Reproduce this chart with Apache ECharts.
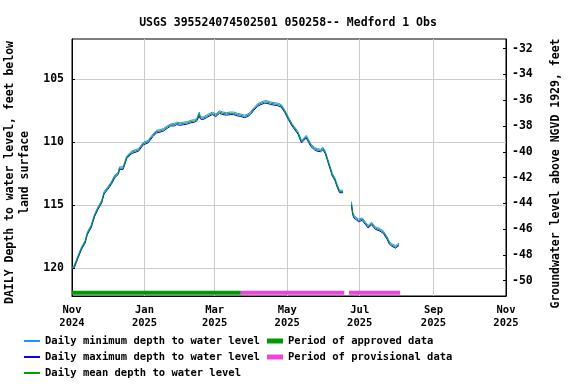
<!DOCTYPE html>
<html><head><meta charset="utf-8">
<script src="https://cdn.jsdelivr.net/npm/echarts@6/dist/echarts.min.js"></script>
<style>html,body{margin:0;padding:0;background:#fff}#c{width:576px;height:384px}</style>
</head><body><div id="c"></div>
<script>
const titleText = 'USGS 395524074502501 050258-- Medford 1 Obs';
const dates = [
 '2024-11-01','2024-11-03','2024-11-06','2024-11-09','2024-11-12','2024-11-14','2024-11-17','2024-11-20','2024-11-23','2024-11-26',
 '2024-11-28','2024-12-01','2024-12-04','2024-12-07','2024-12-10','2024-12-11','2024-12-14','2024-12-17','2024-12-21','2024-12-24',
 '2024-12-27','2024-12-31','2025-01-04','2025-01-08','2025-01-11','2025-01-14','2025-01-17','2025-01-20','2025-01-23','2025-01-26',
 '2025-01-28','2025-01-31','2025-02-03','2025-02-06','2025-02-09','2025-02-12','2025-02-14','2025-02-16','2025-02-17','2025-02-19',
 '2025-02-22','2025-02-25','2025-02-27','2025-03-02','2025-03-05','2025-03-08','2025-03-11','2025-03-14','2025-03-17','2025-03-20',
 '2025-03-23','2025-03-26','2025-03-29','2025-03-31','2025-04-03','2025-04-06','2025-04-09','2025-04-12','2025-04-14','2025-04-17',
 '2025-04-20','2025-04-23','2025-04-26','2025-04-29','2025-05-02','2025-05-05','2025-05-07','2025-05-10','2025-05-13','2025-05-15',
 '2025-05-17','2025-05-19','2025-05-21','2025-05-24','2025-05-26','2025-05-29','2025-05-31','2025-06-02','2025-06-04','2025-06-06',
 '2025-06-08','2025-06-10','2025-06-12','2025-06-14','2025-06-17','2025-06-20','2025-06-24','2025-06-25','2025-06-26','2025-06-28',
 '2025-06-30','2025-07-03','2025-07-06','2025-07-08','2025-07-11','2025-07-14','2025-07-18','2025-07-21','2025-07-24','2025-07-26',
 '2025-07-28','2025-07-31','2025-08-03'
];
const meanDepth = [
 120.0,119.85,119.1,118.4,117.9,117.2,116.7,115.8,115.2,114.7,
 114.0,113.65,113.25,112.7,112.45,112.05,112.05,111.2,110.8,110.7,
 110.6,110.1,109.95,109.45,109.15,109.1,109.0,108.8,108.63,108.6,
 108.5,108.55,108.5,108.45,108.35,108.3,108.2,107.75,108.05,108.1,
 107.95,107.8,107.7,107.85,107.6,107.7,107.75,107.7,107.7,107.8,
 107.85,107.95,107.85,107.7,107.35,107.05,106.9,106.8,106.8,106.9,
 106.95,107.0,107.1,107.55,108.1,108.6,108.85,109.25,109.95,109.75,
 109.55,109.9,110.25,110.5,110.6,110.65,110.5,110.8,111.4,112.0,
 112.6,112.9,113.45,113.9,113.9,null,114.9,115.6,115.9,116.05,
 116.2,116.1,116.45,116.7,116.45,116.8,116.95,117.15,117.6,118.0,
 118.15,118.3,118.1
];
const minDepth = [
 119.95,119.75,119.0,118.3,117.8,117.1,116.6,115.7,115.1,114.6,
 113.9,113.55,113.15,112.6,112.35,111.95,111.95,111.1,110.7,110.6,
 110.5,110.0,109.85,109.35,109.05,109.0,108.9,108.7,108.55,108.5,
 108.4,108.45,108.4,108.35,108.25,108.2,108.1,107.6,107.95,108.0,
 107.85,107.7,107.6,107.75,107.5,107.6,107.65,107.6,107.6,107.7,
 107.75,107.85,107.75,107.6,107.25,106.95,106.8,106.7,106.7,106.8,
 106.85,106.9,107.0,107.45,108.0,108.5,108.75,109.15,109.85,109.65,
 109.45,109.8,110.15,110.4,110.5,110.55,110.4,110.7,111.3,111.9,
 112.5,112.8,113.35,113.8,113.8,null,114.7,115.5,115.8,115.95,
 116.1,116.0,116.35,116.6,116.35,116.7,116.85,117.05,117.5,117.9,
 118.05,118.2,118.0
];
const maxDepth = [
 120.05,119.95,119.2,118.5,118.0,117.3,116.8,115.9,115.3,114.8,
 114.1,113.75,113.35,112.8,112.55,112.15,112.15,111.3,110.9,110.8,
 110.7,110.2,110.05,109.55,109.25,109.2,109.1,108.9,108.7,108.7,
 108.6,108.65,108.6,108.55,108.45,108.4,108.3,107.9,108.15,108.2,
 108.05,107.9,107.8,107.95,107.7,107.8,107.85,107.8,107.8,107.9,
 107.95,108.05,107.95,107.8,107.45,107.15,107.0,106.9,106.9,107.0,
 107.05,107.1,107.2,107.65,108.2,108.7,108.95,109.35,110.05,109.85,
 109.65,110.0,110.35,110.6,110.7,110.75,110.6,110.9,111.5,112.1,
 112.7,113.0,113.55,114.0,114.0,null,115.0,115.7,116.0,116.15,
 116.3,116.2,116.55,116.8,116.55,116.9,117.05,117.25,117.7,118.1,
 118.25,118.4,118.2
];
const approvedPeriod = ['2024-11-01','2025-03-23'];
const provisionalPeriod1 = ['2025-03-23','2025-06-18'];
const provisionalPeriod2 = ['2025-06-22','2025-08-04'];
const periodBarDepth = 121.95;
const xTickDates = ['2024-11-01','2025-01-01','2025-03-01','2025-05-01','2025-07-01','2025-09-01','2025-11-01'];
const monthNames = ['Jan','Feb','Mar','Apr','May','Jun','Jul','Aug','Sep','Oct','Nov','Dec'];
const leftTicks = [105,110,115,120];
const rightTicks = [-50,-48,-46,-44,-42,-40,-38,-36,-34,-32];

const t = s => Date.parse(s + 'T00:00:00Z');
const FONT = '"DejaVu Sans Mono", monospace';
const ser = arr => dates.map((d,i) => [t(d), arr[i]]);
const per = p => p.map(d => [t(d), periodBarDepth]);

const chart = echarts.init(document.getElementById('c'), null, {renderer:'canvas'});
const lineSeries = (name, data, color, z) => ({
  name, type:'line', data, xAxisIndex:0, yAxisIndex:0, showSymbol:false, symbol:'none',
  connectNulls:false, lineStyle:{color, width:1}, itemStyle:{color}, z, animation:false
});
const barSeries = (name, data, color) => ({
  name, type:'line', data, xAxisIndex:0, yAxisIndex:0, showSymbol:false, symbol:'none',
  lineStyle:{color, width:4, cap:'butt'}, itemStyle:{color}, z:5, animation:false
});
const legendText = {fontFamily:FONT, fontWeight:'bold', fontSize:10.5, color:'#000', lineHeight:16};
const xTicks = xTickDates.map(t);

chart.setOption({
  animation: false,
  title: {text:titleText, left:'center', top:12, textStyle:{fontFamily:FONT, fontWeight:'bold', fontSize:11.5, color:'#000'}},
  grid: {left:72, right:70, top:39, bottom:88, outerBoundsMode:'none', containLabel:false, show:true, borderColor:'#000', borderWidth:1, backgroundColor:'#fff'},
  legend: [
    {left:24, top:333, padding:0, orient:'vertical', itemWidth:16, itemHeight:2, itemGap:0, itemTextGap:5, icon:'rect', selectedMode:false,
     textStyle:legendText, data:['Daily minimum depth to water level','Daily maximum depth to water level','Daily mean depth to water level']},
    {left:267, top:333, padding:0, orient:'vertical', itemWidth:16, itemHeight:5, itemGap:0, itemTextGap:5, icon:'rect', selectedMode:false,
     textStyle:legendText, data:['Period of approved data','Period of provisional data']}
  ],
  xAxis: {
    type:'value', min:t('2024-11-01'), max:t('2025-11-01'),
    axisLine:{show:true, lineStyle:{color:'#000', width:1}},
    axisTick:{show:false, customValues:xTicks},
    splitLine:{show:true, lineStyle:{color:'#cccccc', width:1}},
    axisLabel:{customValues:xTicks, showMinLabel:true, showMaxLabel:true, margin:8,
      fontFamily:FONT, fontWeight:'bold', fontSize:10.5, color:'#000', lineHeight:13,
      formatter: v => { const d = new Date(v); return monthNames[d.getUTCMonth()] + '\n' + d.getUTCFullYear(); }}
  },
  yAxis: [
    {type:'value', inverse:true, min:101.8, max:122.2, position:'left',
     name:'DAILY Depth to water level, feet below\nland surface', nameLocation:'middle', nameGap:37, nameRotate:90,
     nameTextStyle:{fontFamily:FONT, fontWeight:'bold', fontSize:11.5, color:'#000', lineHeight:15, padding:[0,10,0,0]},
     axisLine:{show:true, lineStyle:{color:'#000', width:1}},
     axisTick:{show:true, inside:true, length:3, customValues:leftTicks, lineStyle:{color:'#000'}},
     splitLine:{show:true, lineStyle:{color:'#cccccc', width:1}},
     axisLabel:{customValues:leftTicks, margin:8, fontFamily:FONT, fontWeight:'bold', fontSize:11.5, color:'#000'}},
    {type:'value', min:-51.19, max:-31.25, position:'right',
     name:'Groundwater level above NGVD 1929, feet', nameLocation:'middle', nameGap:44, nameRotate:90,
     nameTextStyle:{fontFamily:FONT, fontWeight:'bold', fontSize:11.5, color:'#000', padding:[0,12,0,0]},
     axisLine:{show:true, lineStyle:{color:'#000', width:1}},
     axisTick:{show:true, inside:true, length:3, customValues:rightTicks, lineStyle:{color:'#000'}},
     splitLine:{show:false},
     axisLabel:{customValues:rightTicks, margin:6, fontFamily:FONT, fontWeight:'bold', fontSize:11.5, color:'#000'}}
  ],
  series: [
    lineSeries('Daily minimum depth to water level', ser(minDepth), '#1e90ff', 2),
    lineSeries('Daily maximum depth to water level', ser(maxDepth), '#0000ff', 3),
    lineSeries('Daily mean depth to water level', ser(meanDepth), '#00a000', 4),
    barSeries('Period of approved data', per(approvedPeriod), '#009900'),
    barSeries('Period of provisional data', per(provisionalPeriod1), '#ee44dd'),
    barSeries('Period of provisional data', per(provisionalPeriod2), '#ee44dd')
  ]
});
</script></body></html>
